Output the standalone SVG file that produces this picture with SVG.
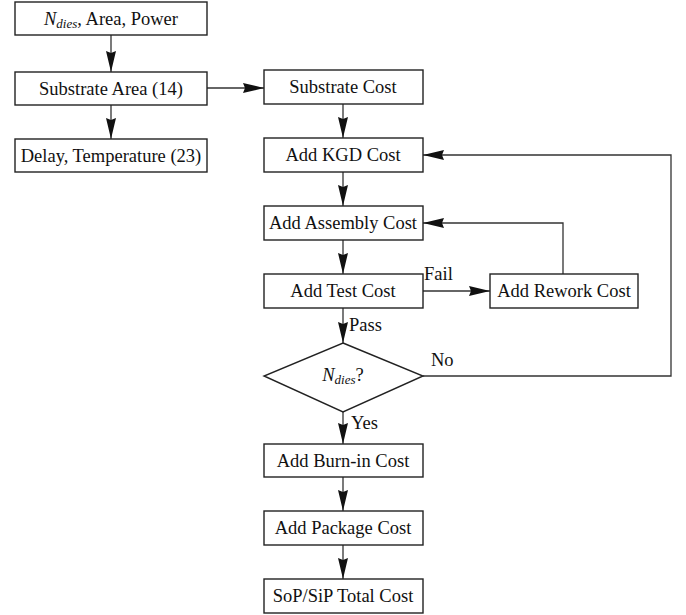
<svg xmlns="http://www.w3.org/2000/svg" width="686" height="615" viewBox="0 0 686 615">
<style>
.box{fill:#fff;stroke:#222;stroke-width:1.4}
.t{font-family:"Liberation Serif",Tinos,"Times New Roman",Times,"DejaVu Serif",serif;font-size:18.5px;fill:#111;text-anchor:middle}
.l{font-family:"Liberation Serif",Tinos,"Times New Roman",Times,"DejaVu Serif",serif;font-size:18.5px;fill:#111}
.c{fill:none;stroke:#333;stroke-width:1.3}
</style>
<defs>
<marker id="ah" markerUnits="userSpaceOnUse" markerWidth="22" markerHeight="12" refX="21" refY="5" orient="auto">
<path d="M0,0 L21,5 L0,10 L2,5 Z" fill="#111"/>
</marker>
</defs>
<g id="connectors">
<path class="c" d="M111,35 V72" marker-end="url(#ah)"/>
<path class="c" d="M111,105 V139" marker-end="url(#ah)"/>
<path class="c" d="M207,88 H264" marker-end="url(#ah)"/>
<path class="c" d="M343,104 V138" marker-end="url(#ah)"/>
<path class="c" d="M343,172 V206" marker-end="url(#ah)"/>
<path class="c" d="M343,240 V274" marker-end="url(#ah)"/>
<path class="c" d="M423,291 H490" marker-end="url(#ah)"/>
<path class="c" d="M563,274 V223 H423" marker-end="url(#ah)"/>
<path class="c" d="M343,308 V343" marker-end="url(#ah)"/>
<path class="c" d="M423,376 H671 V155 H423" marker-end="url(#ah)"/>
<path class="c" d="M343,412 V444" marker-end="url(#ah)"/>
<path class="c" d="M343,477 V511" marker-end="url(#ah)"/>
<path class="c" d="M343,545 V579" marker-end="url(#ah)"/>
<text class="l" x="424" y="280">Fail</text>
<text class="l" x="349" y="331">Pass</text>
<text class="l" x="431" y="366">No</text>
<text class="l" x="351" y="429">Yes</text>
</g>
<g id="inputs">
<rect class="box" x="15" y="2" width="192" height="33"/>
<text class="t" x="111" y="25"><tspan font-style="italic">N</tspan><tspan font-style="italic" font-size="13" dy="3">dies</tspan><tspan dy="-3">, Area, Power</tspan></text>
</g>
<g id="substrate-area">
<rect class="box" x="15" y="72" width="192" height="33"/>
<text class="t" x="111" y="95">Substrate Area (14)</text>
</g>
<g id="delay-temp">
<rect class="box" x="15" y="139" width="192" height="33"/>
<text class="t" x="111" y="162">Delay, Temperature (23)</text>
</g>
<g id="substrate-cost">
<rect class="box" x="264" y="70" width="159" height="34"/>
<text class="t" x="343" y="93">Substrate Cost</text>
</g>
<g id="kgd-cost">
<rect class="box" x="264" y="138" width="159" height="34"/>
<text class="t" x="343" y="161">Add KGD Cost</text>
</g>
<g id="assembly-cost">
<rect class="box" x="264" y="206" width="159" height="34"/>
<text class="t" x="343" y="229">Add Assembly Cost</text>
</g>
<g id="test-cost">
<rect class="box" x="264" y="274" width="159" height="34"/>
<text class="t" x="343" y="297">Add Test Cost</text>
</g>
<g id="rework-cost">
<rect class="box" x="490" y="274" width="148" height="34"/>
<text class="t" x="564" y="297">Add Rework Cost</text>
</g>
<g id="decision">
<polygon class="box" points="343,343 423,376 343,412 264,376"/>
<text class="t" x="343" y="381"><tspan font-style="italic">N</tspan><tspan font-style="italic" font-size="13" dy="3">dies</tspan><tspan dy="-3">?</tspan></text>
</g>
<g id="burnin-cost">
<rect class="box" x="264" y="444" width="159" height="33"/>
<text class="t" x="343" y="467">Add Burn-in Cost</text>
</g>
<g id="package-cost">
<rect class="box" x="264" y="511" width="159" height="34"/>
<text class="t" x="343" y="534">Add Package Cost</text>
</g>
<g id="total-cost">
<rect class="box" x="264" y="579" width="159" height="34"/>
<text class="t" x="343" y="602">SoP/SiP Total Cost</text>
</g>
</svg>
